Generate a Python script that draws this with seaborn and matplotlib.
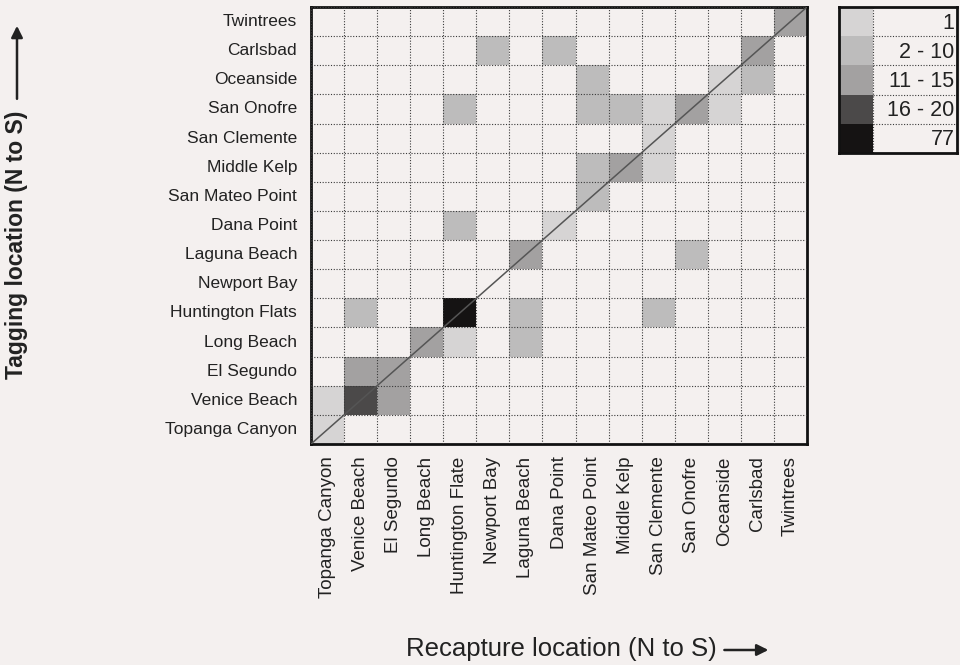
import numpy as np
import pandas as pd
import matplotlib
matplotlib.use("Agg")
import matplotlib.pyplot as plt
from matplotlib.colors import ListedColormap
import seaborn as sns

# locations, north to south
sites = [
    "Topanga Canyon", "Venice Beach", "El Segundo", "Long Beach",
    "Huntington Flats", "Newport Bay", "Laguna Beach", "Dana Point",
    "San Mateo Point", "Middle Kelp", "San Clemente", "San Onofre",
    "Oceanside", "Carlsbad", "Twintrees",
]
xtick_labels = [
    "Topanga Canyon", "Venice Beach", "El Segundo", "Long Beach",
    "Huntington Flate", "Newport Bay", "Laguna Beach", "Dana Point",
    "San Mateo Point", "Middle Kelp", "San Clemente", "San Onofre",
    "Oceanside", "Carlsbad", "Twintrees",
]

# recapture classes: 1 -> "1", 2 -> "2 - 10", 3 -> "11 - 15", 4 -> "16 - 20", 5 -> "77"
class_labels = ["1", "2 - 10", "11 - 15", "16 - 20", "77"]
class_colors = ["#d6d4d4", "#bdbcbc", "#a3a1a1", "#4b4949", "#151313"]
bg = "#f4f0ef"

tag_loc = [
    "Twintrees", "Carlsbad", "Carlsbad", "Carlsbad",
    "Oceanside", "Oceanside", "Oceanside",
    "San Onofre", "San Onofre", "San Onofre", "San Onofre", "San Onofre", "San Onofre",
    "San Clemente",
    "Middle Kelp", "Middle Kelp", "Middle Kelp",
    "San Mateo Point",
    "Dana Point", "Dana Point",
    "Laguna Beach", "Laguna Beach",
    "Huntington Flats", "Huntington Flats", "Huntington Flats", "Huntington Flats",
    "Long Beach", "Long Beach", "Long Beach",
    "El Segundo", "El Segundo",
    "Venice Beach", "Venice Beach", "Venice Beach",
    "Topanga Canyon",
]
recap_loc = [
    "Twintrees", "Newport Bay", "Dana Point", "Carlsbad",
    "San Mateo Point", "Oceanside", "Carlsbad",
    "Huntington Flats", "San Mateo Point", "Middle Kelp", "San Clemente", "San Onofre", "Oceanside",
    "San Clemente",
    "San Mateo Point", "Middle Kelp", "San Clemente",
    "San Mateo Point",
    "Huntington Flats", "Dana Point",
    "Laguna Beach", "San Onofre",
    "Venice Beach", "Huntington Flats", "Laguna Beach", "San Clemente",
    "Long Beach", "Huntington Flats", "Laguna Beach",
    "Venice Beach", "El Segundo",
    "Topanga Canyon", "Venice Beach", "El Segundo",
    "Topanga Canyon",
]
count_class = [
    3, 2, 2, 3,
    2, 1, 2,
    2, 2, 2, 1, 3, 1,
    1,
    2, 3, 1,
    2,
    2, 1,
    3, 2,
    2, 5, 2, 2,
    3, 1, 2,
    3, 3,
    1, 4, 3,
    1,
]

df = pd.DataFrame({"tag": tag_loc, "recap": recap_loc, "cls": count_class})
grid = (
    df.pivot(index="tag", columns="recap", values="cls")
    .reindex(index=sites[::-1], columns=sites)
    .fillna(0)
)

sns.set_theme(style="white")
plt.rcParams["font.family"] = ["Liberation Sans", "DejaVu Sans"]
plt.rcParams["text.color"] = "#222222"

dot = (0, (1, 1.5))
fig = plt.figure(figsize=(9.6, 6.65), dpi=100, facecolor=bg)
ax = fig.add_axes([311 / 960, 1 - 444 / 665, 496 / 960, 437 / 665])
cmap = ListedColormap([bg] + class_colors)
sns.heatmap(grid, ax=ax, cmap=cmap, vmin=-0.5, vmax=5.5, cbar=False,
            xticklabels=xtick_labels, yticklabels=sites[::-1])
n = len(sites)
ax.set_xticks(np.arange(n + 1), minor=True)
ax.set_yticks(np.arange(n + 1), minor=True)
ax.grid(which="minor", color="#3a3a3a", linestyle=dot, linewidth=0.8)
ax.set_axisbelow(False)
ax.plot([0, n], [n, 0], color="#555555", lw=1.1, zorder=3)
ax.tick_params(which="both", length=0, colors="#222222")
ax.tick_params(axis="y", pad=10, labelsize=12.5)
ax.tick_params(axis="x", pad=9, labelsize=13.5)
plt.setp(ax.get_xticklabels(), rotation=90)
plt.setp(ax.get_yticklabels(), rotation=0)
ax.set_xlabel("")
ax.set_ylabel("")
for s in ax.spines.values():
    s.set_visible(True)
    s.set_color("#111111")
    s.set_linewidth(2)

# legend box
lax = fig.add_axes([839 / 960, 1 - 153 / 665, 118 / 960, 146 / 665])
leg = pd.DataFrame({"c": [1, 2, 3, 4, 5]})
sns.heatmap(leg, ax=lax, cmap=cmap, vmin=-0.5, vmax=5.5, cbar=False,
            xticklabels=False, yticklabels=False)
lax.set_xlim(0, 3.47)
lax.set_facecolor(bg)
for i, lab in enumerate(class_labels):
    lax.text(3.4, i + 0.55, lab, ha="right", va="center", fontsize=15.5)
lax.hlines(np.arange(1, 5), 1, 3.47, color="#3a3a3a", linestyle=dot, lw=0.8)
lax.vlines([1], 0, 5, color="#3a3a3a", linestyle=dot, lw=0.8)
lax.set_xlabel("")
lax.set_ylabel("")
for s in lax.spines.values():
    s.set_visible(True)
    s.set_color("#111111")
    s.set_linewidth(2)

xl = fig.text(561 / 960, 1 - 649 / 665, "Recapture location (N to S)",
              ha="center", va="center", fontsize=18.5)
yl = fig.text(17 / 960, 1 - 245 / 665, "Tagging location (N to S)",
              ha="center", va="center", rotation=90, fontsize=16.5,
              fontweight="bold")

fig.canvas.draw()
bx = xl.get_window_extent()
cy = (bx.y0 + bx.y1) / 2 - 1
ax.annotate("", xy=(bx.x1 + 52, cy), xytext=(bx.x1 + 8, cy),
            xycoords="figure pixels", textcoords="figure pixels",
            arrowprops=dict(arrowstyle="-|>", color="#222222", lw=1.8,
                            mutation_scale=17, shrinkA=0, shrinkB=0),
            annotation_clip=False)
by = yl.get_window_extent()
cx = (by.x0 + by.x1) / 2
ax.annotate("", xy=(cx, by.y1 + 85), xytext=(cx, by.y1 + 12),
            xycoords="figure pixels", textcoords="figure pixels",
            arrowprops=dict(arrowstyle="-|>", color="#222222", lw=1.8,
                            mutation_scale=17, shrinkA=0, shrinkB=0),
            annotation_clip=False)

fig.savefig("out.png", dpi=100, facecolor=bg)
